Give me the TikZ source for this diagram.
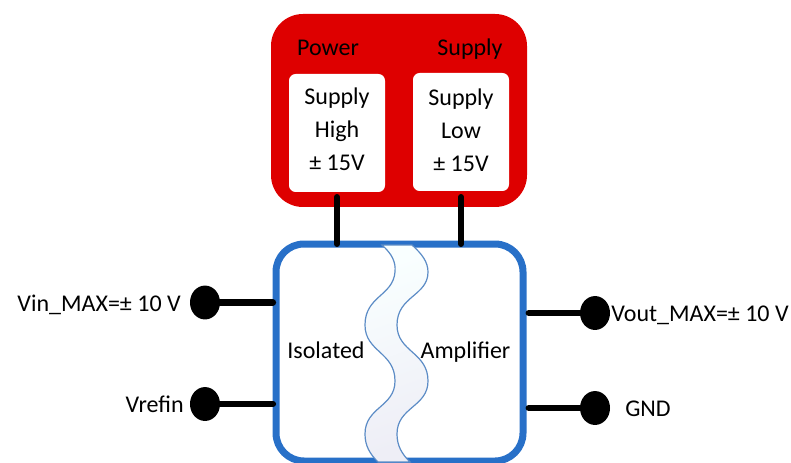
\documentclass[tikz,border=0pt]{standalone}
\usepackage{fontspec}
\setmainfont{Carlito}
\definecolor{redbox}{HTML}{DE0000}
\definecolor{bluebox}{HTML}{2870C8}
\definecolor{waveline}{HTML}{5C8CC6}
\definecolor{wavetop}{HTML}{F9FFFF}
\definecolor{wavebot}{HTML}{EEEEF6}
\tikzset{
  redpanel/.style={fill=redbox,draw=none,rounded corners=24pt,minimum width=192pt,minimum height=144.75pt,inner sep=0pt,outer sep=0pt},
  whitepanel/.style={fill=white,draw=none,rounded corners=5pt,minimum width=72pt,minimum height=88.5pt,inner sep=0pt,outer sep=0pt},
  paneltext/.style={inner sep=0pt,align=center,text=black,font=\fontsize{18pt}{24.75pt}\selectfont},
  ampbox/.style={draw=bluebox,line width=5.25pt,fill=white,rounded corners=21pt,minimum width=185.25pt,minimum height=162.75pt,inner sep=0pt,outer sep=0pt},
  pin/.style={circle,fill=black,draw=none,minimum size=22.5pt,inner sep=0pt,outer sep=0pt,yscale=1.13},
  wire/.style={line width=4.5pt,line cap=round,black},
  sidewire/.style={line width=5pt,line cap=round,black},
  lab/.style={font=\fontsize{18pt}{21pt}\selectfont,inner sep=0pt,text=black}
}
\begin{document}
\begin{tikzpicture}[x=0.75pt,y=-0.75pt]
\useasboundingbox (0,0) rectangle (791,463);
\clip (0,0) rectangle (791,463);
% power supply
\node[redpanel] (power) at (399,110.5) {};
\node[lab,anchor=base] (powerlab) at (328,56) {Power};
\node[lab,anchor=base] (supplylab) at (470,56) {Supply};
\node[whitepanel] (high) at (337,133) {};
\node[whitepanel] (low) at (461,132) {};
\node[paneltext] (hightext) at (337,129.5) {Supply\\High\\± 15V};
\node[paneltext] (lowtext) at (461,130.5) {Supply\\Low\\± 15V};
% amplifier
\node[ampbox] (amp) at (399.5,352.5) {};
% isolation barrier
\draw[draw=waveline,line width=0.9pt,top color=wavetop,bottom color=wavebot,shading angle=20]
  (382,245) .. controls (392,254) and (396,262) .. (395,272)
  .. controls (393,296) and (365,296) .. (365,325)
  .. controls (365,352) and (395,352) .. (395,381)
  .. controls (395,407) and (365,407) .. (365,434)
  .. controls (365,446) and (370,454) .. (378,462)
  -- (410,462)
  .. controls (402,454) and (397,446) .. (397,434)
  .. controls (397,407) and (428,407) .. (428,381)
  .. controls (428,352) and (397,352) .. (397,325)
  .. controls (397,296) and (428,296) .. (428,272)
  .. controls (428,262) and (422,254) .. (412,245)
  -- cycle;
\node[lab,anchor=base] (isol) at (326,358) {Isolated};
\node[lab,anchor=base] (ampl) at (465.5,358) {Amplifier};
% pins
\node[pin] (vin) at (205,302.5) {};
\node[pin] (vref) at (205,404) {};
\node[pin] (vout) at (595,313) {};
\node[pin] (gnd) at (595,408) {};
\node[lab,anchor=base east] (vinlab) at (181,311) {Vin\_MAX=± 10 V};
\node[lab,anchor=base east] (vreflab) at (184,412) {Vrefin};
\node[lab,anchor=base west] (voutlab) at (611,321) {Vout\_MAX=± 10 V};
\node[lab,anchor=base west] (gndlab) at (625,416) {GND};
% wires
\draw[wire] (high.south) ++(0,5) -- (high.south |- amp.north);
\draw[wire] (low.south) ++(0,6) -- (low.south |- amp.north);
\draw[sidewire,shorten >=2.4pt] (vin) -- (vin -| amp.west);
\draw[sidewire,shorten >=2.4pt] (vref) -- (vref -| amp.west);
\draw[sidewire,shorten >=4.4pt] (vout) -- (vout -| amp.east);
\draw[sidewire,shorten >=4.4pt] (gnd) -- (gnd -| amp.east);
\end{tikzpicture}
\end{document}
